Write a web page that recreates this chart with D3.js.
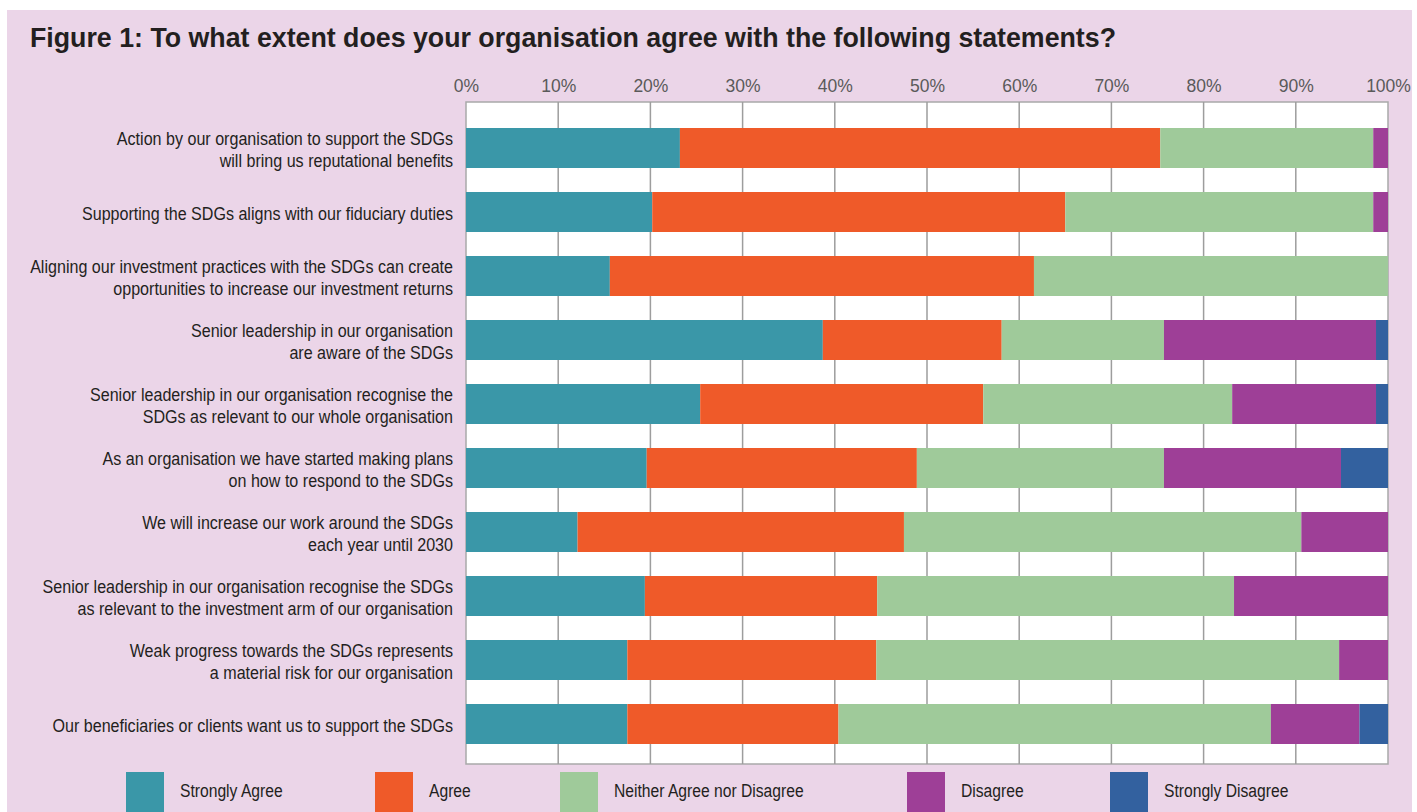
<!DOCTYPE html>
<html>
<head>
<meta charset="utf-8">
<script src="https://cdn.jsdelivr.net/npm/d3@7"></script>
<style>
  html, body { margin: 0; padding: 0; background: #fff; }
  svg { display: block; }
</style>
</head>
<body>
<div class="displayArea"></div>
<script>
// 数据
const statements = [
    ["Action by our organisation to support the SDGs", "will bring us reputational benefits"],
    ["Supporting the SDGs aligns with our fiduciary duties"],
    ["Aligning our investment practices with the SDGs can create", "opportunities to increase our investment returns"],
    ["Senior leadership in our organisation", "are aware of the SDGs"],
    ["Senior leadership in our organisation recognise the", "SDGs as relevant to our whole organisation"],
    ["As an organisation we have started making plans", "on how to respond to the SDGs"],
    ["We will increase our work around the SDGs", "each year until 2030"],
    ["Senior leadership in our organisation recognise the SDGs", "as relevant to the investment arm of our organisation"],
    ["Weak progress towards the SDGs represents", "a material risk for our organisation"],
    ["Our beneficiaries or clients want us to support the SDGs"]
];
const responses = ["Strongly Agree", "Agree", "Neither Agree nor Disagree", "Disagree", "Strongly Disagree"];
const stronglyAgree    = [23.2, 20.2, 15.6, 38.7, 25.4, 19.6, 12.1, 19.4, 17.5, 17.5];
const agree            = [52.1, 44.8, 46.0, 19.4, 30.7, 29.3, 35.4, 25.2, 27.0, 22.9];
const neither          = [23.1, 33.4, 38.4, 17.6, 27.0, 26.8, 43.1, 38.7, 50.2, 46.9];
const disagree         = [1.6, 1.6, 0, 23.0, 15.6, 19.2, 9.4, 16.7, 5.3, 9.6];
const stronglyDisagree = [0, 0, 0, 1.3, 1.3, 5.1, 0, 0, 0, 3.1];
const xTicks = [0, 10, 20, 30, 40, 50, 60, 70, 80, 90, 100];

const colours = ["#3a97a8", "#ef5a29", "#9fca9a", "#9e3f97", "#33619f"];

const W = 1417, H = 812;
const plot = { left: 466, right: 1388, top: 102, bottom: 764 };
const labelFont = "Liberation Sans, Arial, sans-serif";
const squeeze = 0.87; // 模拟窄体字

const rows = statements.map((s, i) => ({
    key: i,
    lines: s,
    "Strongly Agree": stronglyAgree[i],
    "Agree": agree[i],
    "Neither Agree nor Disagree": neither[i],
    "Disagree": disagree[i],
    "Strongly Disagree": stronglyDisagree[i]
}));

const stacked = d3.stack().keys(responses)(rows);

const x = d3.scaleLinear().domain([0, 100]).range([plot.left, plot.right]);
const y = d3.scaleBand()
    .domain(rows.map(d => d.key))
    .range([116, 756])
    .paddingInner(0.375)
    .paddingOuter(0.1875);
const colour = d3.scaleOrdinal().domain(responses).range(colours);

const svg = d3.select(".displayArea").append("svg")
    .attr("width", W)
    .attr("height", H);

// 背景
svg.append("rect")
    .attr("x", 7).attr("y", 10)
    .attr("width", W - 12).attr("height", H - 10)
    .attr("fill", "#ebd5e8");

svg.append("text")
    .attr("x", 30).attr("y", 47)
    .attr("font-family", "Liberation Sans, Arial, sans-serif")
    .attr("font-weight", "bold")
    .attr("font-size", 26.75)
    .attr("fill", "#231f20")
    .text("Figure 1: To what extent does your organisation agree with the following statements?");

// 绘图区
svg.append("rect")
    .attr("x", plot.left).attr("y", plot.top)
    .attr("width", plot.right - plot.left).attr("height", plot.bottom - plot.top)
    .attr("fill", "#fff")
    .attr("stroke", "#a9a9a9")
    .attr("stroke-width", 1.5);

svg.append("g")
    .selectAll("line")
    .data(xTicks.slice(1, -1))
    .join("line")
    .attr("x1", d => x(d)).attr("x2", d => x(d))
    .attr("y1", plot.top).attr("y2", plot.bottom)
    .attr("stroke", "#9d9d9d")
    .attr("stroke-width", 1.5);

// 坐标轴
const xAxis = svg.append("g")
    .attr("transform", `translate(0,${plot.top - 7})`)
    .call(d3.axisTop(x).tickValues(xTicks).tickFormat(d => d + "%").tickSize(0));
xAxis.select(".domain").remove();
xAxis.selectAll("text")
    .attr("font-family", "Liberation Sans, Arial, sans-serif")
    .attr("font-size", 17.5)
    .attr("fill", "#5a5a5a");

// 条形
svg.append("g")
    .selectAll("g")
    .data(stacked)
    .join("g")
    .attr("fill", d => colour(d.key))
    .selectAll("rect")
    .data(d => d)
    .join("rect")
    .attr("x", d => x(d[0]))
    .attr("y", d => y(d.data.key))
    .attr("width", d => x(d[1]) - x(d[0]))
    .attr("height", y.bandwidth());

// 类别标签
const labels = svg.append("g")
    .selectAll("text")
    .data(rows)
    .join("text")
    .attr("text-anchor", "end")
    .attr("font-family", labelFont)
    .attr("font-size", 18.5)
    .attr("fill", "#231f20")
    .attr("transform", d => `translate(453,${y(d.key) + y.bandwidth() / 2 + 2}) scale(${squeeze},1)`);

labels.selectAll("tspan")
    .data(d => d.lines.map((t, i) => ({ t, i, n: d.lines.length })))
    .join("tspan")
    .attr("x", 0)
    .attr("y", d => (d.i - (d.n - 1) / 2) * 22)
    .attr("dy", "0.35em")
    .text(d => d.t);

// 图例
const legendX = [126, 375, 560, 907, 1110];
const legend = svg.append("g")
    .selectAll("g")
    .data(responses)
    .join("g")
    .attr("transform", (d, i) => `translate(${legendX[i]},772)`);

legend.append("rect")
    .attr("width", 38).attr("height", 40)
    .attr("fill", d => colour(d));

legend.append("text")
    .attr("transform", `translate(54,19) scale(${squeeze},1)`)
    .attr("dy", "0.35em")
    .attr("font-family", labelFont)
    .attr("font-size", 18)
    .attr("fill", "#231f20")
    .text(d => d);
</script>
</body>
</html>
